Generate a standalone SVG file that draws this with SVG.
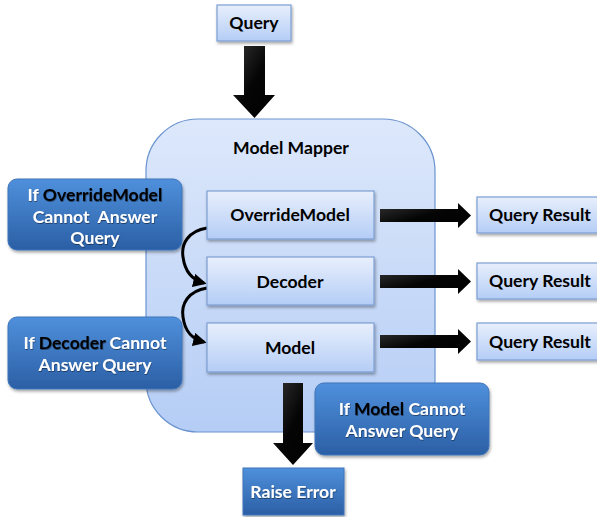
<svg xmlns="http://www.w3.org/2000/svg" width="597" height="517" viewBox="0 0 597 517">
<style>
text{font-family:"Lato","Open Sans","Liberation Sans",sans-serif;font-weight:bold;text-anchor:middle}
.dark{fill:#000;font-size:17.6px}
.wt{fill:#fff;font-size:17.6px}
.hl{fill:#000}
.lb{fill:url(#lightBox);stroke:#7d9fd3;stroke-width:1.2}
.bb{fill:url(#blueBox);stroke:#3f74b8;stroke-width:1}
.arr{fill:url(#arrGrad)}
.curve{fill:none;stroke:#000;stroke-width:3}
</style>
<defs>
<linearGradient id="lightBox" x1="0" y1="0" x2="0" y2="1">
<stop offset="0" stop-color="#e8effc"/>
<stop offset="1" stop-color="#b4cdf6"/>
</linearGradient>
<linearGradient id="mapper" x1="0" y1="0" x2="0" y2="1">
<stop offset="0" stop-color="#dde8fb"/>
<stop offset="1" stop-color="#b5cdf5"/>
</linearGradient>
<linearGradient id="blueBox" x1="0" y1="0" x2="0" y2="1">
<stop offset="0" stop-color="#4f90dc"/>
<stop offset="1" stop-color="#2b5fa5"/>
</linearGradient>
<linearGradient id="arrGrad" x1="0" y1="0" x2="1" y2="1">
<stop offset="0" stop-color="#333"/>
<stop offset="0.5" stop-color="#050505"/>
<stop offset="1" stop-color="#000"/>
</linearGradient>
<filter id="sh" x="-10%" y="-10%" width="120%" height="130%">
<feDropShadow dx="1" dy="2" stdDeviation="1.5" flood-color="#000" flood-opacity="0.35"/>
</filter>
<filter id="tsh" x="-5%" y="-20%" width="110%" height="150%">
<feDropShadow dx="0.5" dy="1" stdDeviation="0.6" flood-color="#000" flood-opacity="0.45"/>
</filter>
<marker id="ah" viewBox="0 0 10 10" refX="8" refY="5" markerWidth="4.5" markerHeight="4.5" orient="auto">
<path d="M0,0 L10,5 L0,10 z" fill="#000"/>
</marker>
</defs>

<g id="mapper-container">
<rect x="146" y="119" width="289" height="313" rx="52" ry="52" fill="url(#mapper)" stroke="#6a93cf" stroke-width="1.2"/>
<text class="dark" x="291" y="154">Model Mapper</text>
</g>

<g id="connectors">
<path class="arr" d="M244,46 H265 V95 H275 L254.5,118 L233,95 H244 Z"/>
<path class="arr" d="M283,383 H303 V443 H313 L293,465 L273,443 H283 Z"/>
<path class="arr" d="M380,209 H458 V203 L471,215.5 L458,228 V222 H380 Z"/>
<path class="arr" d="M380,275 H458 V269 L471,281.5 L458,294 V288 H380 Z"/>
<path class="arr" d="M380,335 H458 V329 L471,341.5 L458,354 V348 H380 Z"/>
<path class="curve" d="M207,228 C188,231 181,244 183,257 C185,272 192,280 204,283" marker-end="url(#ah)"/>
<path class="curve" d="M207,288 C188,291 181,304 183,317 C185,332 192,339 204,342" marker-end="url(#ah)"/>
</g>

<g id="query">
<rect class="lb" x="217" y="5" width="74" height="36" filter="url(#sh)"/>
<text class="dark" x="254" y="29">Query</text>
</g>

<g id="override-model">
<rect class="lb" x="207" y="191" width="167" height="48" filter="url(#sh)"/>
<text class="dark" x="290" y="221">OverrideModel</text>
</g>

<g id="decoder">
<rect class="lb" x="207" y="257" width="167" height="48" filter="url(#sh)"/>
<text class="dark" x="290" y="288">Decoder</text>
</g>

<g id="model">
<rect class="lb" x="207" y="323" width="167" height="49" filter="url(#sh)"/>
<text class="dark" x="290" y="354">Model</text>
</g>

<g id="result-1">
<rect class="lb" x="477" y="197" width="125" height="36" filter="url(#sh)"/>
<text class="dark" x="540" y="221">Query Result</text>
</g>
<g id="result-2">
<rect class="lb" x="477" y="263" width="125" height="36" filter="url(#sh)"/>
<text class="dark" x="540" y="287">Query Result</text>
</g>
<g id="result-3">
<rect class="lb" x="477" y="323" width="125" height="37" filter="url(#sh)"/>
<text class="dark" x="540" y="348">Query Result</text>
</g>

<g id="if-override">
<rect class="bb" x="8" y="179" width="174" height="71" rx="9" ry="9" filter="url(#sh)"/>
<text class="wt" x="95" y="201" filter="url(#tsh)">If <tspan class="hl">OverrideModel</tspan></text>
<text class="wt" x="95" y="223" filter="url(#tsh)" xml:space="preserve">Cannot  Answer</text>
<text class="wt" x="95" y="244" filter="url(#tsh)">Query</text>
</g>

<g id="if-decoder">
<rect class="bb" x="8" y="317" width="174" height="72" rx="9" ry="9" filter="url(#sh)"/>
<text class="wt" x="95" y="349" filter="url(#tsh)">If <tspan class="hl">Decoder</tspan> Cannot</text>
<text class="wt" x="95" y="371" filter="url(#tsh)">Answer Query</text>
</g>

<g id="if-model">
<rect class="bb" x="315" y="383" width="174" height="72" rx="9" ry="9" filter="url(#sh)"/>
<text class="wt" x="402" y="415" filter="url(#tsh)">If <tspan class="hl">Model</tspan> Cannot</text>
<text class="wt" x="402" y="437" filter="url(#tsh)">Answer Query</text>
</g>

<g id="raise-error">
<rect class="bb" x="243" y="468" width="101" height="47" filter="url(#sh)"/>
<text class="wt" x="293" y="498" filter="url(#tsh)">Raise Error</text>
</g>
</svg>
